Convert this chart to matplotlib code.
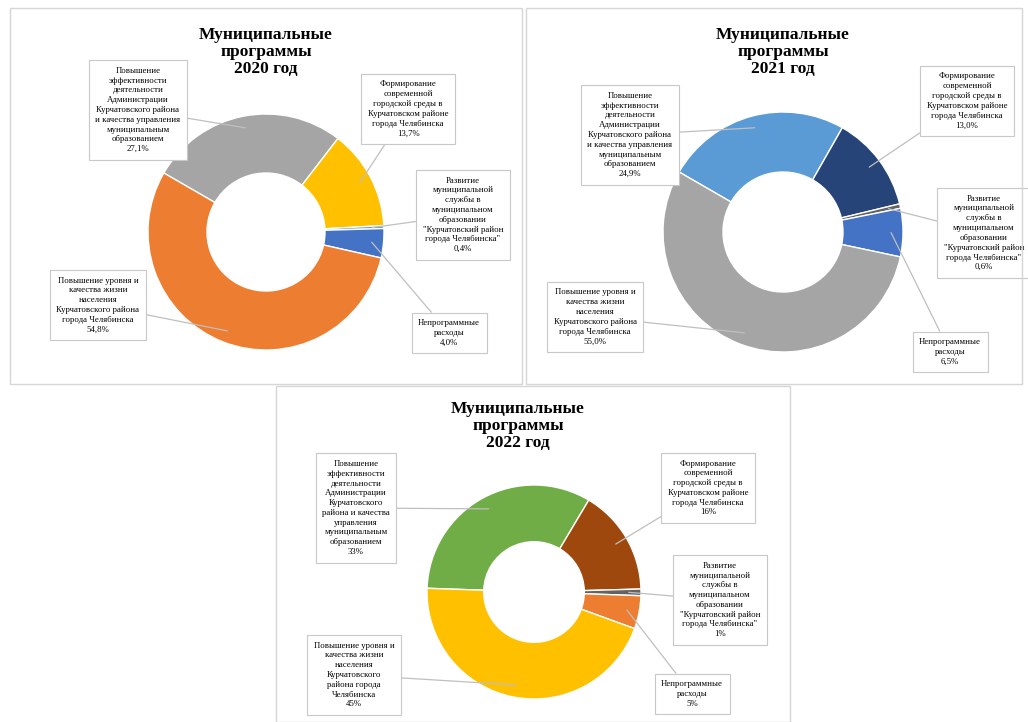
"""
    municipal programs 2020-2022
    draw donut charts
"""
import matplotlib
matplotlib.use('Agg')
import matplotlib.pyplot as plt
from matplotlib.patches import Rectangle
import numpy as np

W, H = 1028, 722

# program names (order of slices, clockwise)
programs = [
    "Повышение эффективности деятельности Администрации",
    "Формирование современной городской среды",
    "Развитие муниципальной службы",
    "Непрограммные расходы",
    "Повышение уровня и качества жизни населения",
]

share_2020 = [27.1, 13.7, 0.4, 4.0, 54.8]
share_2021 = [24.9, 13.0, 0.6, 6.5, 55.0]
share_2022 = [33, 16, 1, 5, 45]

pct_2020 = ["27,1%", "13,7%", "0,4%", "4,0%", "54,8%"]
pct_2021 = ["24,9%", "13,0%", "0,6%", "6,5%", "55,0%"]
pct_2022 = ["33%", "16%", "1%", "5%", "45%"]

colors_2020 = ["#A5A5A5", "#FFC000", "#5B9BD5", "#4472C4", "#ED7D31"]
colors_2021 = ["#5B9BD5", "#264478", "#636363", "#4472C4", "#A5A5A5"]
colors_2022 = ["#70AD47", "#9E480E", "#636363", "#ED7D31", "#FFC000"]

label_text_a = [
    "Повышение\nэффективности\nдеятельности\nАдминистрации\nКурчатовского района\nи качества управления\nмуниципальным\nобразованием",
    "Формирование\nсовременной\nгородской среды в\nКурчатовском районе\nгорода Челябинска",
    "Развитие\nмуниципальной\nслужбы в\nмуниципальном\nобразовании\n\"Курчатовский район\nгорода Челябинска\"",
    "Непрограммные\nрасходы",
    "Повышение уровня и\nкачества жизни\nнаселения\nКурчатовского района\nгорода Челябинска",
]
label_text_b = [
    "Повышение\nэффективности\nдеятельности\nАдминистрации\nКурчатовского\nрайона и качества\nуправления\nмуниципальным\nобразованием",
    label_text_a[1],
    label_text_a[2],
    label_text_a[3],
    "Повышение уровня и\nкачества жизни\nнаселения\nКурчатовского\nрайона города\nЧелябинска",
]

fig = plt.figure(figsize=(W / 100, H / 100), dpi=100)
fig.patch.set_facecolor('white')


def px(x, y):
    return x / W, 1 - y / H


def panel(x0, y0, x1, y1):
    fig.add_artist(Rectangle((x0 / W, 1 - y1 / H), (x1 - x0) / W, (y1 - y0) / H,
                             transform=fig.transFigure, fill=False,
                             ec='#D6D6D6', lw=1.0))


def draw_donut(center, radius, hole, shares, colors, texts, pcts, start, boxes, title, title_pos):
    cx, cy = center
    ax = fig.add_axes([(cx - radius) / W, 1 - (cy + radius) / H, 2 * radius / W, 2 * radius / H])
    wedges, _ = ax.pie(shares, colors=colors, startangle=90 - start, counterclock=False,
                       wedgeprops=dict(width=1 - hole, edgecolor='white', linewidth=1.0))
    ax.set_xlim(-1, 1)
    ax.set_ylim(-1, 1)
    ax.set_aspect('equal')
    ax.axis('off')

    for w, txt, pct, box in zip(wedges, texts, pcts, boxes):
        ang = np.deg2rad((w.theta1 + w.theta2) / 2)
        r = (1 + hole) / 2 + 0.15
        ax.annotate(txt + "\n" + pct, xy=(r * np.cos(ang), r * np.sin(ang)), xycoords='data',
                    xytext=px(*box), textcoords='figure fraction',
                    ha='center', va='center', fontsize=6.3, family='Liberation Serif',
                    linespacing=1.3, annotation_clip=False,
                    bbox=dict(boxstyle='square,pad=0.75', fc='white', ec='#C8C8C8', lw=0.8),
                    arrowprops=dict(arrowstyle='-', color='#BFBFBF', lw=0.9, shrinkA=0, shrinkB=0))

    tx, ty = px(*title_pos)
    fig.text(tx, ty, title, ha='center', va='center', fontsize=12.5, fontweight='bold',
             family='Liberation Serif', linespacing=1.05)


def main():
    panel(10, 8, 522, 384)
    panel(526, 8, 1022, 384)
    panel(276, 386, 790, 722)

    draw_donut((266, 232), 118, 0.5, share_2020, colors_2020, label_text_a, pct_2020, 300,
               [(138, 110), (408, 109), (463, 215), (449, 333), (98, 305)],
               "Муниципальные\nпрограммы\n2020 год", (266, 52))
    draw_donut((783, 232), 120, 0.5, share_2021, colors_2021, label_text_a, pct_2021, 300,
               [(630, 135), (967, 101), (984, 233), (950, 352), (595, 317)],
               "Муниципальные\nпрограммы\n2021 год", (783, 52))
    draw_donut((534, 592), 107, 0.47, share_2022, colors_2022, label_text_b, pct_2022, 272,
               [(356, 508), (708, 488), (720, 600), (692, 694), (354, 675)],
               "Муниципальные\nпрограммы\n2022 год", (518, 426))

    fig.savefig('out.png', dpi=100, facecolor='white')


if __name__ == '__main__':
    main()
